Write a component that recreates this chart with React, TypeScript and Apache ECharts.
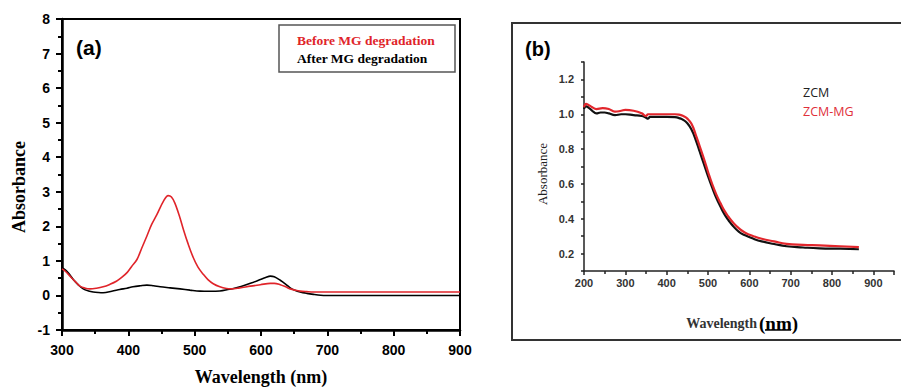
import React, { useEffect, useRef } from "react";
import * as echarts from "echarts";

// Panel (a): UV-Vis of MG solution
const waveBefore = [300, 305, 312, 320, 327, 335, 342, 352, 362, 372, 382, 390, 398, 405, 413, 420, 428, 435, 443, 453, 460, 465, 470, 477, 483, 490, 498, 505, 513, 520, 528, 538, 548, 555, 568, 584, 599, 614, 620, 629, 637, 644, 652, 659, 669, 679, 700, 750, 800, 850, 900];
const absBefore = [0.77, 0.7, 0.56, 0.4, 0.27, 0.21, 0.19, 0.21, 0.25, 0.32, 0.41, 0.52, 0.66, 0.84, 1.04, 1.36, 1.72, 2.05, 2.34, 2.73, 2.89, 2.85, 2.68, 2.3, 1.91, 1.5, 1.09, 0.82, 0.61, 0.46, 0.34, 0.25, 0.2, 0.19, 0.22, 0.27, 0.31, 0.35, 0.35, 0.31, 0.25, 0.19, 0.15, 0.125, 0.11, 0.1, 0.1, 0.1, 0.1, 0.1, 0.1];
const waveAfter = [300, 305, 310, 317, 325, 332, 340, 347, 355, 362, 375, 387, 398, 407, 418, 428, 438, 448, 463, 478, 493, 508, 523, 538, 550, 560, 570, 584, 599, 607, 614, 620, 629, 637, 644, 651, 659, 669, 679, 690, 700, 750, 800, 850, 900];
const absAfter = [0.8, 0.74, 0.64, 0.46, 0.3, 0.19, 0.13, 0.1, 0.085, 0.08, 0.12, 0.17, 0.21, 0.25, 0.28, 0.3, 0.28, 0.25, 0.22, 0.19, 0.155, 0.125, 0.12, 0.13, 0.17, 0.21, 0.26, 0.35, 0.46, 0.52, 0.56, 0.54, 0.44, 0.33, 0.22, 0.15, 0.1, 0.06, 0.03, 0.005, 0, 0, 0, 0, 0];

// Panel (b): ZCM and ZCM-MG
const waveZCM = [200, 205, 210, 220, 230, 240, 250, 260, 275, 290, 300, 320, 340, 350, 355, 360, 370, 400, 420, 430, 440, 450, 460, 470, 480, 490, 500, 510, 520, 530, 540, 550, 560, 575, 590, 610, 630, 660, 690, 730, 770, 820, 865];
const absZCM = [1.03, 1.045, 1.04, 1.02, 1.005, 1.01, 1.01, 1.005, 0.995, 1.0, 1.0, 0.995, 0.99, 0.98, 0.975, 0.985, 0.985, 0.985, 0.983, 0.978, 0.968, 0.948, 0.912, 0.855, 0.785, 0.715, 0.645, 0.58, 0.52, 0.47, 0.425, 0.39, 0.36, 0.325, 0.305, 0.285, 0.27, 0.255, 0.242, 0.235, 0.23, 0.228, 0.225];
const waveZCMMG = [200, 205, 210, 220, 230, 245, 260, 275, 290, 300, 320, 340, 350, 355, 360, 400, 420, 430, 440, 450, 460, 470, 480, 490, 500, 510, 520, 530, 540, 550, 560, 575, 590, 610, 630, 660, 690, 730, 770, 820, 865];
const absZCMMG = [1.04, 1.06, 1.055, 1.04, 1.03, 1.035, 1.03, 1.015, 1.02, 1.025, 1.02, 1.005, 0.99, 1.0, 1.0, 1.0, 1.0, 0.998, 0.99, 0.975, 0.945, 0.885, 0.815, 0.745, 0.67, 0.6, 0.54, 0.49, 0.445, 0.41, 0.38, 0.345, 0.32, 0.3, 0.285, 0.27, 0.256, 0.25, 0.247, 0.242, 0.237];

const zip = (xs: number[], ys: number[]) => xs.map((x, i) => [x, ys[i]]);

const RED_A = "#e0242a";
const RED_B = "#e2262c";

export default function App() {
  const ref = useRef<HTMLDivElement>(null);
  useEffect(() => {
    const chart = echarts.init(ref.current!, null, { renderer: "svg" });
    const axA = {
      axisLine: { show: true, onZero: false, lineStyle: { color: "#000", width: 2.5 } },
      axisTick: { show: true, length: 6, lineStyle: { color: "#000", width: 2 } },
      minorTick: { show: true, splitNumber: 2, length: 4, lineStyle: { color: "#000", width: 2 } },
      splitLine: { show: false },
      minorSplitLine: { show: false },
    };
    const labA = { fontFamily: "Liberation Sans", fontWeight: "bold", fontSize: 14, color: "#000" };
    const axB = {
      axisLine: { show: true, onZero: false, lineStyle: { color: "#222", width: 1.5 } },
      splitLine: { show: false },
      minorSplitLine: { show: false },
    };
    const labB = { fontFamily: "Liberation Sans", fontWeight: "bold", fontSize: 11, color: "#333" };
    chart.setOption({
      animation: false,
      backgroundColor: "#fff",
      grid: [
        { left: 62, top: 19, width: 398, height: 311, show: true, borderColor: "#000", borderWidth: 2, backgroundColor: "transparent" },
        { left: 584, top: 62, width: 310, height: 209 },
      ],
      xAxis: [
        {
          type: "value", gridIndex: 0, min: 300, max: 900, interval: 100, ...axA,
          axisLabel: { ...labA, margin: 13 },
        },
        {
          type: "value", gridIndex: 1, min: 200, max: 950, interval: 100, ...axB,
          axisTick: { show: true, length: 4, lineStyle: { color: "#222", width: 1.5 } },
          minorTick: { show: true, splitNumber: 2, length: 3, lineStyle: { color: "#222", width: 1.5 } },
          axisLabel: { ...labB, margin: 6, formatter: (v: number) => (v > 900 ? "" : String(v)) },
        },
      ],
      yAxis: [
        {
          type: "value", gridIndex: 0, min: -1, max: 8, interval: 1, ...axA,
          axisLabel: { ...labA, margin: 12 },
        },
        {
          type: "value", gridIndex: 1, min: 0.1, max: 1.3, interval: 0.1, ...axB,
          axisTick: { show: true, length: 3, lineStyle: { color: "#222", width: 1.5 } },
          axisLabel: {
            ...labB, margin: 10,
            formatter: (v: number) => {
              const k = Math.round(v * 10);
              return k % 2 === 0 && k >= 2 && k <= 12 ? (k / 10).toFixed(1) : "";
            },
          },
        },
      ],
      series: [
        { type: "line", xAxisIndex: 0, yAxisIndex: 0, data: zip(waveAfter, absAfter), showSymbol: false, smooth: 0.35, lineStyle: { color: "#000", width: 1.6 } },
        { type: "line", xAxisIndex: 0, yAxisIndex: 0, data: zip(waveBefore, absBefore), showSymbol: false, smooth: 0.35, lineStyle: { color: RED_A, width: 1.6 } },
        { type: "line", xAxisIndex: 1, yAxisIndex: 1, data: zip(waveZCM, absZCM), showSymbol: false, smooth: 0.5, lineStyle: { color: "#111", width: 2.2 } },
        { type: "line", xAxisIndex: 1, yAxisIndex: 1, data: zip(waveZCMMG, absZCMMG), showSymbol: false, smooth: 0.5, lineStyle: { color: RED_B, width: 2.2 } },
      ],
      graphic: [
        { type: "rect", shape: { x: 279, y: 25, width: 176, height: 47 }, style: { fill: "#fff", stroke: "#555", lineWidth: 1.5 }, z: 100 },
        { type: "text", x: 297, y: 40, z: 101, style: { text: "Before MG degradation", fill: RED_A, font: 'bold 13.5px "Liberation Serif"', verticalAlign: "middle" } },
        { type: "text", x: 297, y: 58, z: 101, style: { text: "After MG degradation", fill: "#000", font: 'bold 13.5px "Liberation Serif"', verticalAlign: "middle" } },
        { type: "text", x: 76, y: 47, z: 101, style: { text: "(a)", fill: "#000", font: 'bold 21px "Liberation Sans"', verticalAlign: "middle" } },
        { type: "text", x: 19, y: 187, rotation: Math.PI / 2, z: 101, style: { text: "Absorbance", fill: "#000", font: 'bold 18px "Liberation Serif"', align: "center", verticalAlign: "middle" } },
        { type: "text", x: 261, y: 386, z: 101, style: { text: "Wavelength (nm)", fill: "#000", font: 'bold 18px "Liberation Serif"', align: "center", verticalAlign: "bottom" } },
        { type: "rect", shape: { x: 512, y: 23, width: 420, height: 317 }, style: { fill: "none", stroke: "#333", lineWidth: 2 }, z: 100 },
        { type: "text", x: 525, y: 49, z: 101, style: { text: "(b)", fill: "#000", font: 'bold 20px "Liberation Sans"', verticalAlign: "middle" } },
        { type: "text", x: 542, y: 174, rotation: Math.PI / 2, z: 101, style: { text: "Absorbance", fill: "#222", font: '13px "Liberation Serif"', align: "center", verticalAlign: "middle" } },
        { type: "text", x: 757, y: 323, z: 101, style: { text: "Wavelength", fill: "#333", font: 'bold 14px "Liberation Serif"', align: "right", verticalAlign: "middle" } },
        { type: "text", x: 759, y: 323, z: 101, style: { text: "(nm)", fill: "#000", font: 'bold 19px "Liberation Serif"', align: "left", verticalAlign: "middle" } },
        { type: "line", shape: { x1: 765, y1: 330, x2: 791, y2: 330 }, style: { stroke: "#000", lineWidth: 1.5 }, z: 101 },
        { type: "text", x: 803, y: 92, z: 101, style: { text: "ZCM", fill: "#222", font: '12.5px "Open Sans"', verticalAlign: "middle" } },
        { type: "text", x: 803, y: 111, z: 101, style: { text: "ZCM-MG", fill: "#e0303a", font: '12.5px "Open Sans"', verticalAlign: "middle" } },
      ],
    });
    return () => chart.dispose();
  }, []);
  return <div ref={ref} style={{ position: "fixed", left: 0, top: 0, width: 901, height: 387, background: "#fff" }} />;
}
